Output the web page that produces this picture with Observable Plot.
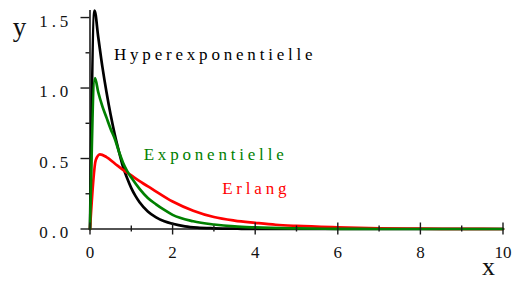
<!DOCTYPE html>
<html><head><meta charset="utf-8">
<script src="https://cdn.jsdelivr.net/npm/d3@7"></script>
<script src="https://cdn.jsdelivr.net/npm/@observablehq/plot@0.6"></script>
<style>
html,body{margin:0;padding:0;background:#fff;}
svg text{font-family:"Liberation Serif","Times New Roman",serif !important;}
</style>
</head><body><div id="chart"></div>
<script>
// Series values
const hyperX = [0, 0.11, 0.2, 0.3, 0.4, 0.5, 0.6, 0.7, 0.8, 0.9, 1.0, 1.1, 1.2, 1.4, 1.6, 1.8, 2.0, 2.3, 2.6, 3.0, 3.5, 4.0, 5.0, 6.0, 8.0, 10.0];
const hyperY = [0, 1.55, 1.36, 1.15, 0.97, 0.81, 0.67, 0.55, 0.44, 0.36, 0.29, 0.235, 0.19, 0.125, 0.083, 0.055, 0.037, 0.019, 0.01, 0.005, 0.002, 0.001, 0, 0, 0, 0];

const expoX = [0, 0.12, 0.2, 0.3, 0.4, 0.5, 0.6, 0.7, 0.8, 0.9, 1.0, 1.2, 1.4, 1.6, 1.8, 2.0, 2.5, 3.0, 3.5, 4.0, 5.0, 6.0, 7.0, 8.0, 10.0];
const expoY = [0, 1.07, 0.97, 0.87, 0.79, 0.71, 0.64, 0.55, 0.47, 0.41, 0.365, 0.285, 0.22, 0.175, 0.135, 0.1, 0.055, 0.032, 0.018, 0.011, 0.004, 0.001, 0, 0, 0];

const erlX = [0, 0.14, 0.24, 0.4, 0.6, 0.8, 1.0, 1.2, 1.5, 2.0, 2.5, 3.0, 3.5, 4.0, 4.5, 5.0, 6.0, 7.0, 8.0, 9.0, 10.0];
const erlY = [0, 0.49, 0.53, 0.51, 0.465, 0.42, 0.38, 0.34, 0.285, 0.195, 0.13, 0.085, 0.06, 0.044, 0.03, 0.022, 0.012, 0.005, 0.002, 0.001, 0];

const seriesNames = ["Hyperexponentielle", "Exponentielle", "Erlang"];
const seriesColors = ["#000000", "#008000", "#ff0000"];
// label anchor positions (data units)
const labelX = [0.58, 1.30, 3.20];
const labelY = [1.234, 0.531, 0.288];

const xMajor = [0, 2, 4, 6, 8, 10];
const xMinor = [1, 3, 5, 7, 9];
const yMajor = [0, 0.5, 1.0, 1.5];
const yMinor = [0.25, 0.75, 1.25];
const xDomain = [0, 10];
const yDomain = [0, 1.55];

const toRows = (xs, ys, s) => xs.map((x, i) => ({x, y: ys[i], s}));
const hyper = toRows(hyperX, hyperY, seriesNames[0]);
const expo = toRows(expoX, expoY, seriesNames[1]);
const erl = toRows(erlX, erlY, seriesNames[2]);
const labels = seriesNames.map((n, i) => ({n, x: labelX[i], y: labelY[i], c: seriesColors[i]}));

const W = 515, H = 281;
const mL = 89.5, mR = 12.5, mT = 10, mB = 52.5;
const frameW = W - mL - mR, frameH = H - mT - mB;
const font = "Liberation Serif";

const chart = Plot.plot({
  width: W, height: H,
  marginLeft: mL, marginRight: mR, marginTop: mT, marginBottom: mB,
  x: {domain: xDomain, axis: null},
  y: {domain: yDomain, axis: null},
  style: {fontFamily: font, background: "#fff", overflow: "visible"},
  marks: [
    Plot.ruleX([0], {y1: yDomain[0], y2: yDomain[1], stroke: "#1a1a1a", strokeWidth: 1.6}),
    Plot.ruleY([0], {x1: xDomain[0], x2: xDomain[1], stroke: "#1a1a1a", strokeWidth: 1.6}),
    Plot.line(hyper, {x: "x", y: "y", stroke: seriesColors[0], strokeWidth: 2.7, curve: "monotone-x"}),
    Plot.line(erl, {x: "x", y: "y", stroke: seriesColors[2], strokeWidth: 2.7, curve: "monotone-x"}),
    Plot.line(expo, {x: "x", y: "y", stroke: seriesColors[1], strokeWidth: 2.7, curve: "monotone-x"}),
    Plot.tickX(xMajor, {x: d => d, stroke: "#1a1a1a", strokeWidth: 1.4, insetTop: frameH - 6, insetBottom: -6}),
    Plot.tickX(xMinor, {x: d => d, stroke: "#1a1a1a", strokeWidth: 1.4, insetTop: frameH - 3, insetBottom: -3}),
    Plot.tickY(yMajor, {y: d => d, stroke: "#1a1a1a", strokeWidth: 1.4, insetLeft: -9, insetRight: frameW}),
    Plot.tickY(yMinor, {y: d => d, stroke: "#1a1a1a", strokeWidth: 1.4, insetLeft: -4, insetRight: frameW}),
    Plot.text(xMajor, {x: d => d, y: 0, text: d => String(d), textAnchor: "middle", lineAnchor: "top", dy: 17, fontSize: 17, fontFamily: font, fill: "#111"}),
    Plot.text(yMajor, {x: 0, y: d => d, text: d => d3.format(".1f")(d), textAnchor: "end", lineAnchor: "middle", dx: -18, dy: 4, fontSize: 17, fontFamily: font, fill: "#111"}),
    Plot.text(labels, {x: "x", y: "y", text: "n", fill: "c", textAnchor: "start", lineAnchor: "middle", fontSize: 17, fontFamily: font}),
    Plot.text(["y"], {frameAnchor: "top-left", text: d => d, lineAnchor: "middle", dx: -70.5, dy: 17, fontSize: 27, fontFamily: font, fill: "#111", textAnchor: "middle"}),
    Plot.text(["x"], {frameAnchor: "bottom-right", text: d => d, lineAnchor: "middle", dx: -14.5, dy: 37.5, fontSize: 26, fontFamily: font, fill: "#111", textAnchor: "middle"})
  ]
});
// letter spacing as in the reference (spaced serif labels)
chart.querySelectorAll("g[aria-label='text']").forEach((g, i) => {
  if (i === 1 || i === 2) g.setAttribute("letter-spacing", "3.8px");
});
document.getElementById("chart").appendChild(chart);
</script>
</body></html>
